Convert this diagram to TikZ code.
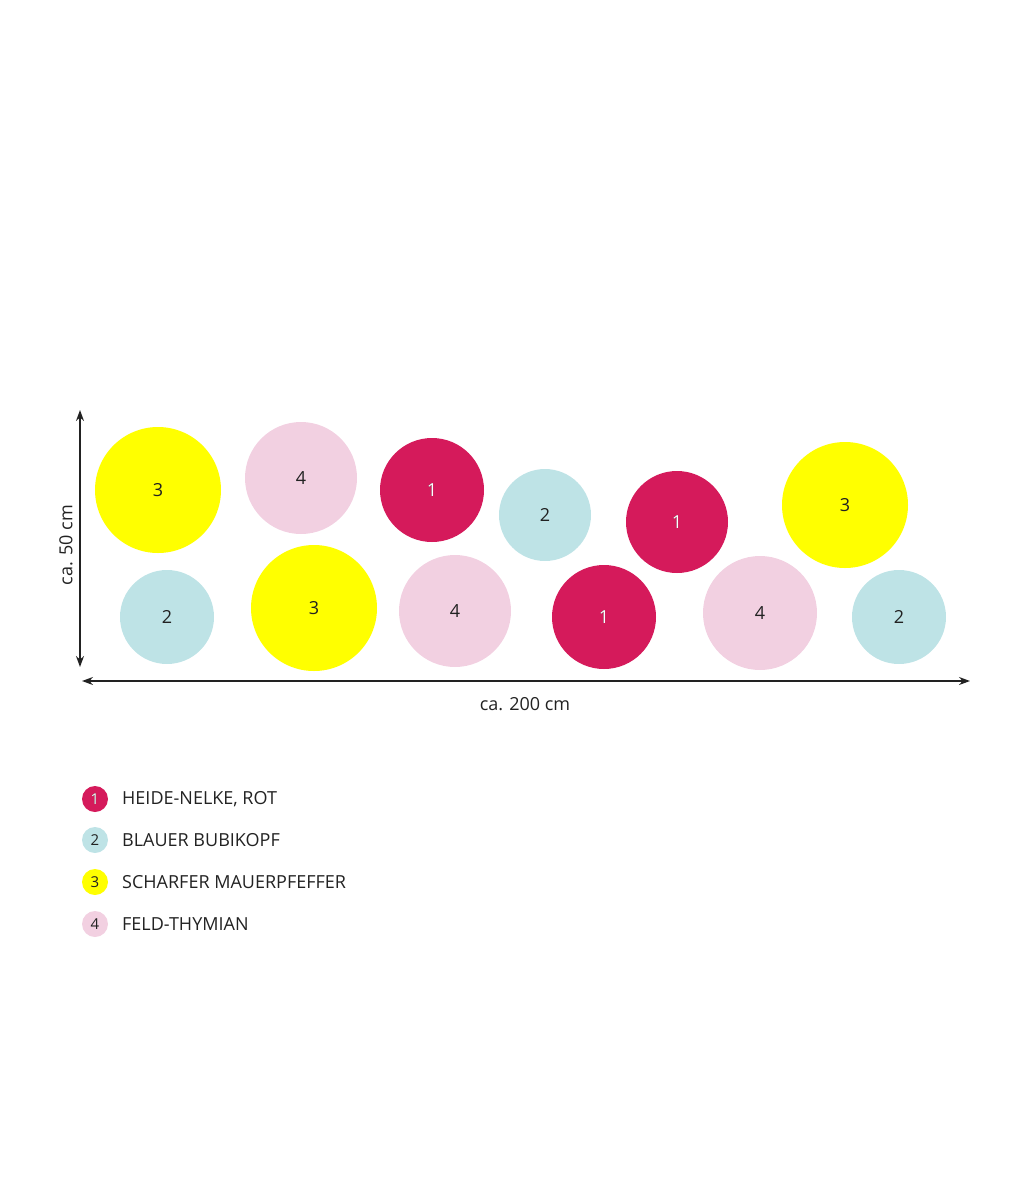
\documentclass[tikz,border=0pt]{standalone}
\usepackage{fontspec}
\setmainfont{Open Sans}
\usetikzlibrary{arrows.meta}

\begin{document}
\begin{tikzpicture}[x=1pt, y=-1pt, font=\fontsize{18}{21}\selectfont]
    % Define colours
    \definecolor{nelkeColour}{HTML}{D51A5B}
    \definecolor{bubiColour}{HTML}{BEE3E6}
    \definecolor{pfefferColour}{HTML}{FFFF00}
    \definecolor{thymianColour}{HTML}{F2D0E1}
    \definecolor{textColour}{HTML}{222222}

    \tikzset{
        plant/.style={circle, inner sep=0pt, text=textColour},
        measure/.style={line width=1.4pt, draw=textColour, {Stealth[length=11pt,width=8pt]}-{Stealth[length=11pt,width=8pt]}}
    }

    \useasboundingbox (0,0) rectangle (1029,1200);

    % Draw the plants of the bed
    \foreach \name/\x/\y/\r/\c/\n in {
        pA/158/490/63/pfefferColour/3, pB/301/478/56/thymianColour/4,
        pC/432/490/52/nelkeColour/1, pD/545/515/46/bubiColour/2,
        pE/677/522/51/nelkeColour/1, pF/845/505/63/pfefferColour/3,
        pG/167/617/47/bubiColour/2, pH/314/608/63/pfefferColour/3,
        pI/455/611/56/thymianColour/4, pJ/604/617/52/nelkeColour/1,
        pK/760/613/57/thymianColour/4, pL/899/617/47/bubiColour/2}
        \node[plant, fill=\c, minimum size=2*\r] (\name) at (\x,\y) {\n};
    \foreach \name in {pC,pE,pJ}
        \node[text=white] at (\name) {1};

    % Draw the measures
    \coordinate (vTop) at (80,410);
    \coordinate (vBot) at (80,667);
    \coordinate (hLeft) at (82,681);
    \coordinate (hRight) at (970,681);
    \draw[measure] (vTop) -- (vBot);
    \draw[measure] (hLeft) -- (hRight);
    \node[rotate=90, text=textColour] (height) at (66,545) {ca. 50 cm};
    \node[text=textColour] (width) at (525,704) {ca. 200 cm};

    % Draw the legend
    \foreach \name/\y/\c/\n/\t in {
        lA/799/nelkeColour/1/{HEIDE-NELKE, ROT},
        lB/840/bubiColour/2/BLAUER BUBIKOPF,
        lC/882/pfefferColour/3/SCHARFER MAUERPFEFFER,
        lD/924/thymianColour/4/FELD-THYMIAN} {
        \node[plant, fill=\c, minimum size=26, font=\fontsize{15}{17}\selectfont] (\name) at (95,\y) {\n};
        \node[anchor=west, text=textColour, inner sep=0pt] (\name text) at (122,\y) {\t};
    }
    \node[text=white, font=\fontsize{15}{17}\selectfont] at (lA) {1};

\end{tikzpicture}
\end{document}
